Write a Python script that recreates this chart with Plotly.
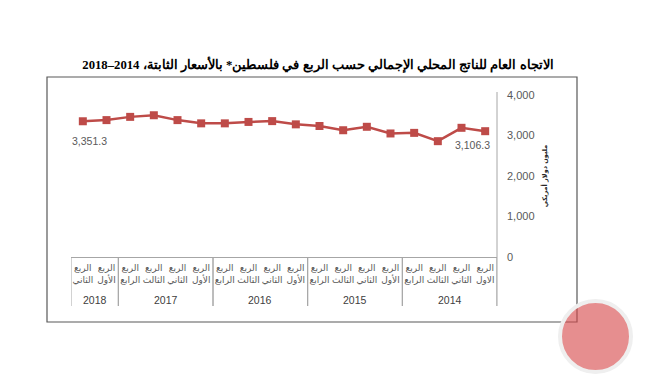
import plotly.graph_objects as go

# ---- data (time order: 2014 Q1 ... 2018 Q2) ----
years = ["2014"] * 4 + ["2015"] * 4 + ["2016"] * 4 + ["2017"] * 4 + ["2018"] * 2
quarter_names = [
    "الربع<br>الاول", "الربع<br>الثاني", "الربع<br>الثالث", "الربع<br>الرابع",
    "الربع<br>الأول", "الربع<br>الثاني", "الربع<br>الثالث", "الربع<br>الرابع",
    "الربع<br>الأول", "الربع<br>الثاني", "الربع<br>الثالث", "الربع<br>الرابع",
    "الربع<br>الأول", "الربع<br>الثاني", "الربع<br>الثالث", "الربع<br>الرابع",
    "الربع<br>الأول", "الربع<br>الثاني",
]
gdp_values = [
    3106.3, 3190, 2860, 3065,
    3050, 3215, 3130, 3235,
    3275, 3355, 3335, 3300,
    3300, 3380, 3500, 3460,
    3380, 3351.3,
]
labelled_points = {0: "3,106.3", 17: "3,351.3"}
y_ticks = [0, 1000, 2000, 3000, 4000]
year_groups = ["2014", "2015", "2016", "2017", "2018"]

title_text = "الاتجاه العام للناتج المحلي الإجمالي حسب الربع في فلسطين* بالأسعار الثابتة، 2014–2018"
y_title = "مليون دولار أمريكي"

# unique category keys (one per quarter)
cat_keys = [f"{y}-{i % 4 + 1}" for i, y in enumerate(years)]

RED = "#BE4B48"
GRAY_TXT = "#595959"
AXIS = "#A6A6A6"

fig = go.Figure(
    go.Scatter(
        x=cat_keys,
        y=gdp_values,
        mode="lines+markers",
        line=dict(color=RED, width=2.5),
        marker=dict(symbol="square", size=8, color=RED),
        cliponaxis=False,
        hoverinfo="skip",
    )
)

# page body adds an 8px margin: design in window pixels, then shift
OFF = 8
W, H = 650 - OFF, 384 - OFF
L, R, T, B = 71 - OFF, 497 - OFF, 95 - OFF, 257 - OFF
pw, ph = R - L, B - T


def px(xp):
    return (xp - OFF - L) / pw


def py(yp):
    return (B - (yp - OFF)) / ph


shapes = [
    # outer chart frame
    dict(type="rect", xref="paper", yref="paper",
         x0=px(47), x1=px(577), y0=py(322), y1=py(77),
         line=dict(color="#595959", width=1.2), fillcolor="rgba(0,0,0,0)", layer="above"),
    # vertical value axis line (extends into category box)
    dict(type="line", xref="paper", yref="paper",
         x0=1, x1=1, y0=py(306), y1=py(92),
         line=dict(color=AXIS, width=1)),
    # watermark logo circle
    dict(type="circle", xref="paper", yref="paper",
         x0=px(560), x1=px(631), y0=py(372), y1=py(301),
         line=dict(color="#EFEFEF", width=4), fillcolor="rgba(214,72,74,0.62)", layer="above"),
]

annotations = []
# data labels for first and last points
label_shift = {0: (-13, -14), 17: (7, -20)}
for idx, txt in labelled_points.items():
    dx, dy = label_shift[idx]
    annotations.append(dict(xref="x", yref="y", x=cat_keys[idx], y=gdp_values[idx],
                            text=txt, showarrow=False, xshift=dx, yshift=dy,
                            font=dict(family="Liberation Sans, Arial, sans-serif",
                                      size=10.5, color=GRAY_TXT)))

# year group dividers and labels, positioned through the category axis
start = 0
for yr in year_groups:
    n = years.count(yr)
    lo, hi = start - 0.5, start + n - 0.5
    for edge in (lo, hi):
        shapes.append(dict(type="line", xref="x", yref="paper",
                           x0=edge, x1=edge, y0=0, y1=py(306),
                           line=dict(color=AXIS, width=1)))
    annotations.append(dict(xref="x", yref="paper", x=(lo + hi) / 2, y=py(300),
                            text=yr, showarrow=False, yanchor="middle",
                            font=dict(family="Liberation Sans, Arial, sans-serif",
                                      size=10.5, color="#404040")))
    start += n

fig.update_layout(
    width=W,
    height=H,
    margin=dict(l=L, r=W - R, t=T, b=H - B),
    paper_bgcolor="white",
    plot_bgcolor="white",
    showlegend=False,
    title=dict(
        text="<b>" + title_text + "</b>",
        x=(318 - OFF) / W,
        xanchor="center",
        y=1 - (65 - OFF) / H,
        yanchor="middle",
        font=dict(family="Liberation Serif, Times New Roman, serif", size=12.7, color="#000000"),
    ),
    xaxis=dict(
        type="category",
        range=[len(cat_keys) - 0.5, -0.5],
        automargin=False,
        tickmode="array",
        tickvals=cat_keys,
        ticktext=quarter_names,
        tickangle=0,
        showline=True,
        linecolor=AXIS,
        linewidth=1,
        showgrid=False,
        ticks="",
        ticklabelstandoff=2,
        tickfont=dict(family="DejaVu Sans, Arial, sans-serif", size=9, color=GRAY_TXT),
        zeroline=False,
    ),
    yaxis=dict(
        side="right",
        range=[0, 4000],
        automargin=False,
        tickvals=y_ticks,
        tickformat=",",
        showgrid=False,
        showline=False,
        zeroline=False,
        ticks="",
        ticklabelstandoff=9,
        tickfont=dict(family="Liberation Sans, Arial, sans-serif", size=11, color=GRAY_TXT),
        title=dict(
            text="<b>" + y_title + "</b>",
            font=dict(family="DejaVu Sans, Arial, sans-serif", size=6.5, color="#262626"),
            standoff=8,
        ),
    ),
    shapes=shapes,
    annotations=annotations,
)

fig.write_html("out.html")
